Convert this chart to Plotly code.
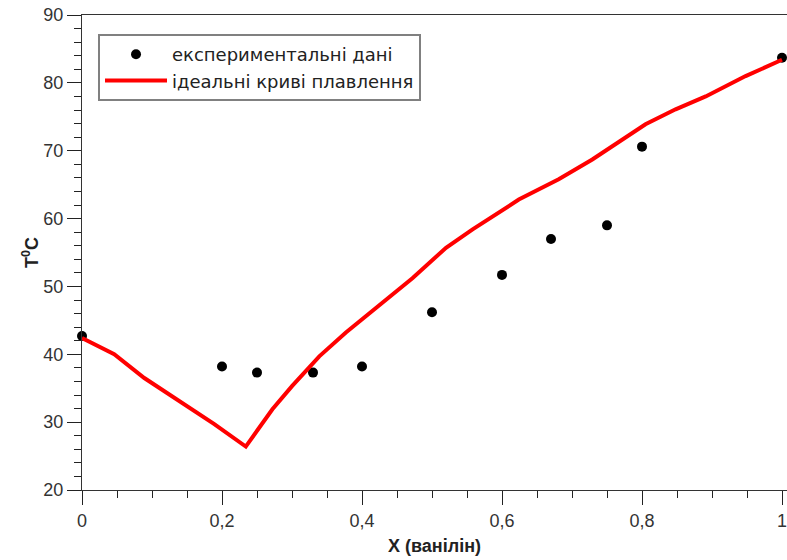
import plotly.graph_objects as go

# Experimental data
exp_x = [0, 0.2, 0.25, 0.33, 0.4, 0.5, 0.6, 0.67, 0.75, 0.8, 1.0]
exp_t = [42.7, 38.2, 37.3, 37.3, 38.2, 46.2, 51.7, 57.0, 59.0, 70.6, 83.7]

# Ideal melting curves
ideal_x = [0, 0.046, 0.089, 0.131, 0.189, 0.234, 0.255, 0.272, 0.300, 0.339,
           0.377, 0.424, 0.472, 0.520, 0.558, 0.624, 0.681, 0.729, 0.767,
           0.805, 0.848, 0.891, 0.948, 1.0]
ideal_t = [42.4, 40.0, 36.5, 33.6, 29.7, 26.4, 29.4, 31.9, 35.3, 39.7,
           43.2, 47.1, 51.2, 55.7, 58.4, 62.8, 65.8, 68.7, 71.3,
           73.9, 76.1, 78.0, 81.0, 83.4]

name_exp = "експериментальні дані"
name_ideal = "ідеальні криві плавлення"
x_title = "X (ванілін)"
y_title = "T<sup>0</sup>C"

FONT = "Liberation Sans, Arial, sans-serif"
LFONT = "DejaVu Sans, Verdana, sans-serif"
AXC = "#333333"
TKC = "#222222"
MAJ, MIN = 14, 7
PLOT_W = 705

fig = go.Figure()
fig.add_trace(go.Scatter(x=exp_x, y=exp_t, mode="markers", name=name_exp,
                         marker=dict(color="black", size=10), cliponaxis=False))
fig.add_trace(go.Scatter(x=ideal_x, y=ideal_t, mode="lines", name=name_ideal,
                         line=dict(color="#ff0000", width=4), cliponaxis=False))

fig.update_layout(
    template="none",
    width=787, height=560,
    margin=dict(l=82, r=0, t=15, b=70),
    paper_bgcolor="white", plot_bgcolor="white",
    separators=", ",
    font=dict(family=FONT, size=18, color=AXC),
    showlegend=True,
    legend=dict(x=0.0227, y=0.96, xanchor="left", yanchor="top",
                bgcolor="white", bordercolor="#808080", borderwidth=2,
                font=dict(family=LFONT, size=18, color="#222222"),
                tracegroupgap=0, itemwidth=62),
    xaxis=dict(range=[0, PLOT_W / 700], showgrid=False, zeroline=False,
               showline=True, linecolor=AXC, linewidth=1, mirror=True,
               ticks="outside", ticklen=MAJ, tickwidth=1, tickcolor=TKC,
               tick0=0, dtick=0.2, ticklabeloverflow="allow",
               minor=dict(ticks="outside", ticklen=MIN, tickwidth=1,
                          tickcolor=TKC, dtick=0.05, showgrid=False),
               tickfont=dict(size=18, color=AXC),
               title=dict(text=x_title, standoff=9,
                          font=dict(size=18, color="#222222", weight="bold"))),
    yaxis=dict(range=[20, 90], showgrid=False, zeroline=False,
               showline=True, linecolor=AXC, linewidth=1,
               ticks="outside", ticklen=MAJ, tickwidth=1, tickcolor=TKC,
               tick0=20, dtick=10,
               minor=dict(ticks="outside", ticklen=MIN, tickwidth=1,
                          tickcolor=TKC, dtick=2, showgrid=False),
               tickfont=dict(size=18, color=AXC),
               title=dict(text=y_title, standoff=0,
                          font=dict(size=18, color="#222222", weight="bold"))),
)

fig.write_html("out.html")
